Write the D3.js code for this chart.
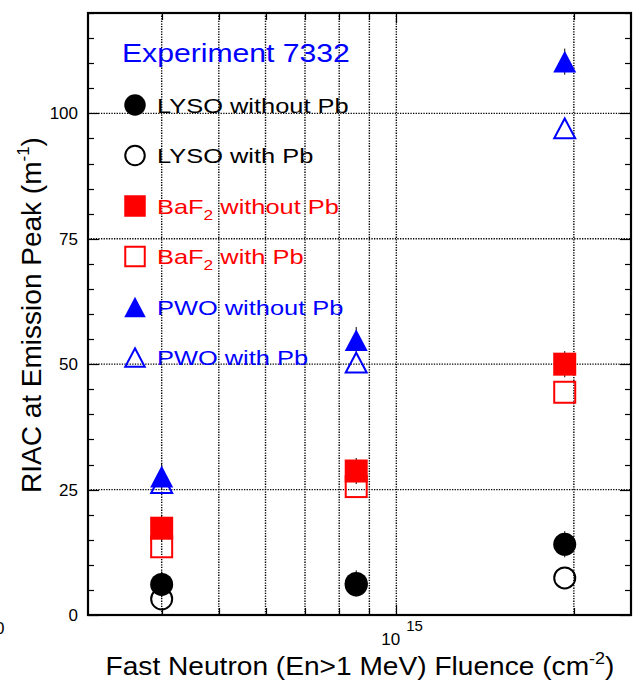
<!DOCTYPE html>
<html>
<head>
<meta charset="utf-8">
<script src="https://cdn.jsdelivr.net/npm/d3@7"></script>
<style>
  html, body { margin: 0; padding: 0; background: #fff; }
  svg { display: block; }
  text { font-family: "Liberation Sans", Arial, sans-serif; }
</style>
</head>
<body>
<svg id="chart" width="635" height="680"></svg>
<script>
// ---- data ----
const fluence   = [4.0e14, 8.55e14, 1.93e15];
const lysoNoPb  = [6.1, 6.3, 14.1];
const lysoPb    = [3.2, 6.0, 7.4];
const baf2NoPb  = [17.3, 28.7, 50.0];
const baf2Pb    = [13.6, 25.6, 44.4];
const pwoNoPb   = [27.6, 54.8, 110.3];
const pwoPb     = [26.3, 50.3, 97.0];
const errNoPb   = [2.6, 2.6, 2.6];

const yTicks = [0, 25, 50, 75, 100];
const yMinor = d3.range(0, 121, 5);
const xGrid  = [4e14, 5e14, 6e14, 7e14, 8e14, 9e14, 1e15, 2e15];
const xLabelTick = 1e15;

const seriesNames = ["LYSO without Pb", "LYSO with Pb", "BaF2 without Pb", "BaF2 with Pb", "PWO without Pb", "PWO with Pb"];

const series = [
  {name: seriesNames[0], values: lysoNoPb, shape: "circle",   filled: true,  color: "#000000"},
  {name: seriesNames[1], values: lysoPb,   shape: "circle",   filled: false, color: "#000000"},
  {name: seriesNames[2], values: baf2NoPb, shape: "square",   filled: true,  color: "#ff0000"},
  {name: seriesNames[3], values: baf2Pb,   shape: "square",   filled: false, color: "#ff0000"},
  {name: seriesNames[4], values: pwoNoPb,  shape: "triangle", filled: true,  color: "#0000ff"},
  {name: seriesNames[5], values: pwoPb,    shape: "triangle", filled: false, color: "#0000ff"}
];

// ---- layout ----
const svg = d3.select("#chart");
const L = 88, R = 631, T = 13, B = 615;
const x = d3.scaleLog().domain([3e14, 2.5e15]).range([L, R]);
const y = d3.scaleLinear().domain([0, 120]).range([B, T]);

// grid
const grid = svg.append("g").attr("stroke", "#000").attr("stroke-width", 1.4)
  .attr("stroke-dasharray", "1.3,1.3");
grid.selectAll("line.v").data(xGrid).join("line").attr("class", "v")
  .attr("x1", d => x(d)).attr("x2", d => x(d))
  .attr("y1", T).attr("y2", B);
grid.selectAll("line.h").data(yTicks.filter(d => d > 0)).join("line").attr("class", "h")
  .attr("x1", L).attr("x2", R)
  .attr("y1", d => y(d)).attr("y2", d => y(d));

// ticks
const tk = svg.append("g").attr("stroke", "#000").attr("stroke-width", 1.2);
yMinor.forEach(v => {
  const major = yTicks.includes(v);
  const len = major ? 11 : 6;
  const yy = Math.round(y(v)) + 0.5;
  tk.append("line").attr("x1", L).attr("x2", L + len).attr("y1", yy).attr("y2", yy);
  tk.append("line").attr("x1", R).attr("x2", R - len).attr("y1", yy).attr("y2", yy);
});
xGrid.forEach(v => {
  const xx = Math.round(x(v)) + 0.5;
  const len = v === xLabelTick ? 10 : 7;
  tk.append("line").attr("x1", xx).attr("x2", xx).attr("y1", B).attr("y2", B - len);
  tk.append("line").attr("x1", xx).attr("x2", xx).attr("y1", T).attr("y2", T + len);
});

// frame
svg.append("rect").attr("x", L).attr("y", T).attr("width", R - L).attr("height", B - T)
  .attr("fill", "none").attr("stroke", "#000").attr("stroke-width", 2.2);

// y tick labels
svg.append("g").selectAll("text").data(yTicks).join("text")
  .attr("x", 78).attr("y", d => y(d) + 6)
  .attr("text-anchor", "end").attr("font-size", 17).attr("fill", "#000")
  .text(d => d);

// x tick label 10^15
const xl = svg.append("text").attr("x", x(xLabelTick) - 15).attr("y", 645).attr("font-size", 17).attr("fill", "#000");
xl.append("tspan").text("10");
xl.append("tspan").attr("dx", 6).attr("dy", -14).attr("font-size", 15).text("15");

// partly visible label at the bottom-left edge, as in the reference
svg.append("text").attr("x", -5).attr("y", 634).attr("font-size", 17).attr("fill", "#000").text("0");

// axis titles
const yt = svg.append("text").attr("transform", "translate(41,315) rotate(-90)")
  .attr("text-anchor", "middle").attr("font-size", 28).attr("fill", "#000");
yt.append("tspan").text("RIAC at Emission Peak (m");
yt.append("tspan").attr("font-size", 17).attr("dy", -12).text("-1");
yt.append("tspan").attr("dy", 12).text(")");

const xtG = svg.append("g").attr("transform", "translate(360,675) scale(1.125,1)");
const xt = xtG.append("text").attr("text-anchor", "middle").attr("font-size", 25).attr("fill", "#000");
xt.append("tspan").text("Fast Neutron (En>1 MeV) Fluence (cm");
xt.append("tspan").attr("font-size", 16).attr("dy", -11).text("-2");
xt.append("tspan").attr("dy", 11).text(")");

// marker drawing helper
function drawMarker(g, shape, filled, color, cx, cy, s) {
  const fill = filled ? color : "none";
  const sw = filled ? 0 : 2;
  if (shape === "circle") {
    g.append("circle").attr("cx", cx).attr("cy", cy).attr("r", filled ? s / 2 : s / 2 - 1)
      .attr("fill", fill).attr("stroke", color).attr("stroke-width", sw);
  } else if (shape === "square") {
    const h = filled ? s : s - 2;
    g.append("rect").attr("x", cx - h / 2).attr("y", cy - h / 2).attr("width", h).attr("height", h)
      .attr("fill", fill).attr("stroke", color).attr("stroke-width", sw);
  } else {
    const w = filled ? s : s - 2, h = filled ? s * 0.95 : s * 0.95 - 2;
    const p = `M${cx},${cy - h / 2}L${cx + w / 2},${cy + h / 2}L${cx - w / 2},${cy + h / 2}Z`;
    g.append("path").attr("d", p).attr("fill", fill).attr("stroke", color)
      .attr("stroke-width", sw).attr("stroke-linejoin", "miter");
  }
}

// error bars (behind filled markers)
const eb = svg.append("g").attr("stroke", "#000").attr("stroke-width", 1);
series.filter(s => s.filled).forEach(s => {
  s.values.forEach((v, i) => {
    eb.append("line").attr("x1", x(fluence[i])).attr("x2", x(fluence[i]))
      .attr("y1", y(v - errNoPb[i])).attr("y2", y(v + errNoPb[i]));
  });
});

// data markers: draw open ones first, filled on top
const mk = svg.append("g");
[1, 3, 5, 0, 2, 4].forEach(k => {
  const s = series[k];
  s.values.forEach((v, i) => drawMarker(mk, s.shape, s.filled, s.color, x(fluence[i]), y(v), 23));
});

// legend
const lg = svg.append("g");
const eG = lg.append("g").attr("transform", "translate(122,62) scale(1.16,1)");
eG.append("text").attr("font-size", 26).attr("fill", "#0000ff").text("Experiment 7332");

series.forEach((s, k) => {
  const cy = 105 + k * 50.5;
  drawMarker(lg, s.shape, s.filled, s.color, 135, cy, 21.5);
  const tg = lg.append("g").attr("transform", `translate(157,${cy + 7.5}) scale(1.24,1)`);
  const t = tg.append("text").attr("font-size", 20.5).attr("fill", s.color);
  const m = s.name.match(/^BaF2(.*)$/);
  if (m) {
    t.append("tspan").text("BaF");
    t.append("tspan").attr("font-size", 14).attr("dy", 6).text("2");
    t.append("tspan").attr("dy", -6).text(m[1]);
  } else {
    t.text(s.name);
  }
});
</script>
</body>
</html>
